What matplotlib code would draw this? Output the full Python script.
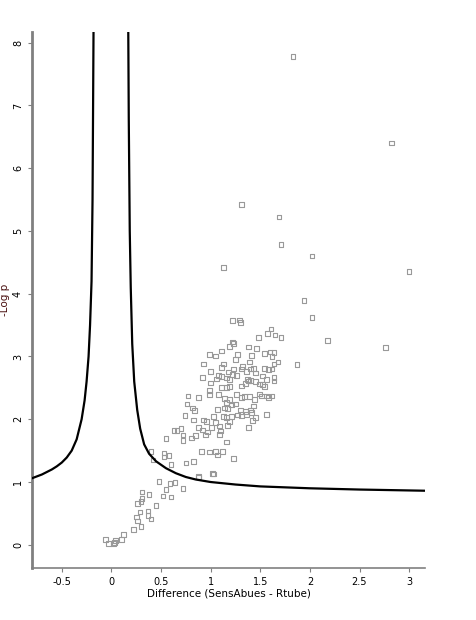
import matplotlib.pyplot as plt

# points (difference, -log p)
diff = [1.83, 2.82, 1.31, 1.69, 1.71, 2.02, 1.13, 3.0, 1.94, 2.02, 2.18, 2.76, 1.87,
        1.22, 1.29, 1.30, 1.61, 1.57, 1.65, 1.71, 1.48, 1.22, 1.23, 1.19, 1.38, 1.46,
        0.99, 1.05, 1.11, 1.27, 1.41, 1.54, 1.60, 1.64, 1.62, 1.68, 1.64, 0.93, 1.13,
        1.25, 1.39, 1.32, 1.31, 1.23, 1.18, 1.00, 1.11, 1.36, 1.40, 1.43, 1.45, 1.54,
        1.58, 1.62, 1.22, 1.26, 1.19, 1.16, 1.08, 1.06, 0.92, 1.11, 1.37, 1.40, 1.45,
        1.52, 1.56, 1.64, 1.64, 1.00, 1.11, 1.16, 1.19, 1.31, 1.35, 1.38, 1.49, 1.52,
        1.54, 0.99, 0.99, 1.08, 1.14, 1.19, 1.16, 1.26, 1.31, 1.34, 1.39, 1.44, 1.49,
        1.51, 1.56, 1.58, 1.62, 0.77, 0.88, 0.76, 0.82, 0.84, 1.07, 1.14, 1.17, 1.21,
        1.25, 1.30, 1.35, 1.40, 1.43, 1.41, 1.56, 0.74, 0.83, 0.93, 0.96, 1.03, 1.13,
        1.16, 1.21, 1.27, 1.31, 1.36, 1.45, 0.88, 0.92, 0.95, 0.97, 1.01, 1.05, 1.09,
        1.10, 1.09, 1.17, 1.19, 1.38, 1.42, 0.63, 0.66, 0.70, 0.72, 0.72, 0.81, 0.85,
        0.55, 1.16, 0.91, 0.99, 1.05, 1.12, 1.07, 1.23, 0.75, 0.83, 0.53, 0.58, 0.53,
        0.60, 0.42, 0.88, 1.03, 0.40, 0.48, 0.59, 0.64, 0.55, 0.72, 0.31, 0.38, 0.52,
        0.60, 0.31, 0.30, 0.26, 0.45, 0.29, 0.37, 0.37, 0.25, 0.40, 0.26, 0.30, 0.22,
        0.12, 0.10, -0.06, -0.03, 0.02, 0.04, 0.03, 0.88, 1.02]
logp = [7.78, 6.40, 5.42, 5.22, 4.78, 4.60, 4.42, 4.35, 3.89, 3.62, 3.25, 3.14, 2.87,
        3.57, 3.58, 3.54, 3.44, 3.37, 3.34, 3.30, 3.30, 3.23, 3.21, 3.16, 3.15, 3.13,
        3.03, 3.01, 3.09, 3.03, 3.02, 3.05, 3.07, 3.06, 3.00, 2.91, 2.88, 2.88, 2.88,
        2.95, 2.91, 2.84, 2.80, 2.80, 2.75, 2.76, 2.82, 2.76, 2.80, 2.81, 2.74, 2.81,
        2.79, 2.80, 2.71, 2.70, 2.63, 2.66, 2.70, 2.64, 2.67, 2.68, 2.63, 2.62, 2.60,
        2.69, 2.63, 2.67, 2.61, 2.58, 2.51, 2.51, 2.52, 2.53, 2.57, 2.61, 2.56, 2.55,
        2.52, 2.39, 2.46, 2.39, 2.33, 2.31, 2.27, 2.39, 2.35, 2.36, 2.36, 2.31, 2.40,
        2.37, 2.37, 2.35, 2.37, 2.37, 2.35, 2.24, 2.18, 2.14, 2.16, 2.18, 2.17, 2.23,
        2.24, 2.15, 2.12, 2.15, 2.21, 2.11, 2.08, 2.06, 1.99, 1.99, 1.96, 2.04, 2.04,
        2.03, 2.04, 2.07, 2.05, 2.08, 2.03, 1.87, 1.83, 1.75, 1.80, 1.87, 1.95, 1.89,
        1.81, 1.76, 1.90, 1.96, 1.87, 1.98, 1.82, 1.82, 1.85, 1.75, 1.66, 1.70, 1.74,
        1.69, 1.64, 1.49, 1.48, 1.49, 1.49, 1.43, 1.37, 1.30, 1.33, 1.46, 1.42, 1.40,
        1.28, 1.35, 1.09, 1.13, 1.49, 1.01, 0.98, 0.99, 0.88, 0.90, 0.84, 0.80, 0.78,
        0.76, 0.74, 0.69, 0.66, 0.63, 0.52, 0.54, 0.47, 0.44, 0.41, 0.38, 0.29, 0.24,
        0.16, 0.08, 0.08, 0.02, 0.02, 0.07, 0.04, 1.08, 1.14]

# significance threshold curve
left_x = [-0.8, -0.7, -0.6, -0.55, -0.5, -0.45, -0.4, -0.35, -0.3, -0.27, -0.25,
          -0.23, -0.215, -0.20, -0.19, -0.18]
left_y = [1.06, 1.12, 1.2, 1.25, 1.31, 1.39, 1.5, 1.68, 2.0, 2.3, 2.6, 3.0, 3.5,
          4.2, 5.5, 8.2]
right_x = [0.17, 0.175, 0.185, 0.195, 0.21, 0.23, 0.26, 0.29, 0.33, 0.38, 0.45,
           0.55, 0.65, 0.75, 0.85, 1.0, 1.25, 1.5, 2.0, 2.5, 3.2]
right_y = [8.2, 6.8, 5.0, 4.1, 3.2, 2.6, 2.15, 1.85, 1.6, 1.45, 1.33, 1.22, 1.14,
           1.08, 1.04, 1.0, 0.96, 0.93, 0.9, 0.88, 0.86]

fig = plt.figure(figsize=(4.76, 6.2), dpi=100)
ax = fig.add_axes([32 / 476, 1 - 568 / 620, 393 / 476, 536 / 620])

ax.scatter(diff, logp, marker="s", s=11, facecolors="none",
           edgecolors="#999999", linewidths=0.8, zorder=2)
ax.plot(left_x, left_y, color="black", lw=1.6, zorder=3)
ax.plot(right_x, right_y, color="black", lw=1.6, zorder=3)

ax.set_xlim(-0.8, 3.16)
ax.set_ylim(-0.37, 8.17)
ax.set_xticks([-0.5, 0, 0.5, 1, 1.5, 2, 2.5, 3])
ax.set_xticklabels(["-0.5", "0", "0.5", "1", "1.5", "2", "2.5", "3"])
ax.set_yticks(range(9))

for side in ["top", "right"]:
    ax.spines[side].set_visible(False)
ax.spines["left"].set_color("#808080")
ax.spines["left"].set_linewidth(2)
ax.spines["bottom"].set_color("#808080")
ax.spines["bottom"].set_linewidth(1.2)

ax.tick_params(axis="both", labelsize=7, length=3, color="#808080")
for lab in ax.get_yticklabels():
    lab.set_rotation(90)
    lab.set_va("center")

ax.set_xlabel("Difference (SensAbues - Rtube)", fontsize=7.5, labelpad=1)
ax.set_ylabel("-Log p", fontsize=7.5, color="#4a1010")
ax.yaxis.set_label_coords(-0.055, 0.5)

fig.savefig("out.png", dpi=100)
